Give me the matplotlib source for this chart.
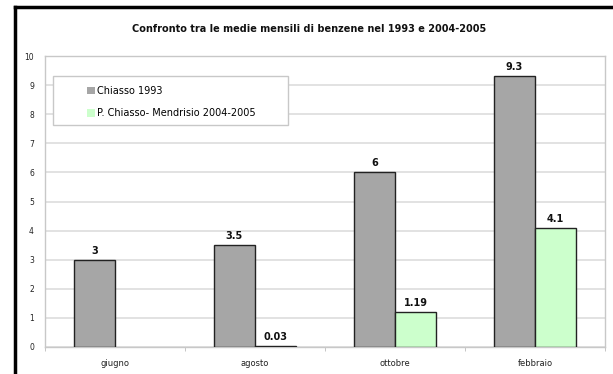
import numpy as np
import matplotlib.pyplot as plt
from matplotlib.lines import Line2D
from matplotlib.patches import Rectangle

# Monthly benzene means
mesi = ['giugno', 'agosto', 'ottobre', 'febbraio']
chiasso_1993 = [3, 3.5, 6, 9.3]
mendrisio_0405 = [np.nan, 0.03, 1.19, 4.1]
serie = ['Chiasso 1993', 'P. Chiasso- Mendrisio 2004-2005']

fig = plt.figure(figsize=(6.13, 3.74), dpi=100)
ax = fig.add_axes([45/613, 27/374, 560/613, 291/374])

x = np.arange(len(mesi))
w = 0.293
b1 = ax.bar(x - w/2, chiasso_1993, w, color='#a6a6a6', edgecolor='#222222', linewidth=1.0, zorder=3)
b2 = ax.bar(x + w/2, mendrisio_0405, w, color='#ccffcc', edgecolor='#222222', linewidth=1.0, zorder=3)

# value labels above the bars
for bars, vals in [(b1, chiasso_1993), (b2, mendrisio_0405)]:
    for r, v in zip(bars, vals):
        if np.isnan(v):
            continue
        ax.annotate(f'{v:g}', (r.get_x() + r.get_width()/2, v), xytext=(0, 3),
                    textcoords='offset points', ha='center', va='bottom',
                    fontsize=7, fontweight='bold', color='#111111')

ax.set_xlim(-0.5, 3.5)
ax.set_ylim(0, 10)
ax.set_yticks(range(0, 11))
ax.set_xticks(x)
ax.set_xticklabels(mesi)
ax.set_xticks(np.arange(-0.5, 4.0, 1), minor=True)
ax.tick_params(axis='x', which='major', length=0, pad=9, labelsize=6, labelcolor='#222222')
ax.tick_params(axis='x', which='minor', length=3, color='#bbbbbb')
ax.tick_params(axis='y', length=0, pad=8, labelsize=5.5, labelcolor='#222222')
ax.grid(axis='y', color='#dddddd', linewidth=1.2, zorder=0)
for s in ax.spines.values():
    s.set_color('#c8c8c8')
    s.set_linewidth(1.0)

fig.text(0.505, 0.922, 'Confronto tra le medie mensili di benzene nel 1993 e 2004-2005',
         ha='center', va='center', fontsize=7, fontweight='bold', color='#111111')

# legend box
ax.add_patch(Rectangle((53/613, 1 - 125/374), 235/613, 49/374, transform=fig.transFigure,
                       facecolor='white', edgecolor='#c8c8c8', linewidth=1.0, zorder=4,
                       clip_on=False))
leg = ax.legend([b1, b2], serie, loc='upper left', bbox_to_anchor=(80/613, 1 - 79/374),
                bbox_transform=fig.transFigure, frameon=False, fontsize=7,
                handlelength=0.85, handleheight=0.85, handletextpad=0.2, labelspacing=1.3,
                borderpad=0.2)
for h in leg.legend_handles:
    h.set_edgecolor('none')
leg.set_zorder(5)

# outer frame
fig.add_artist(Line2D([15/613, 15/613], [0, 1 - 7/374], color='black', linewidth=2.5))
fig.add_artist(Line2D([15/613, 1], [1 - 7/374, 1 - 7/374], color='black', linewidth=2.5))

plt.savefig('out.png', dpi=100)
